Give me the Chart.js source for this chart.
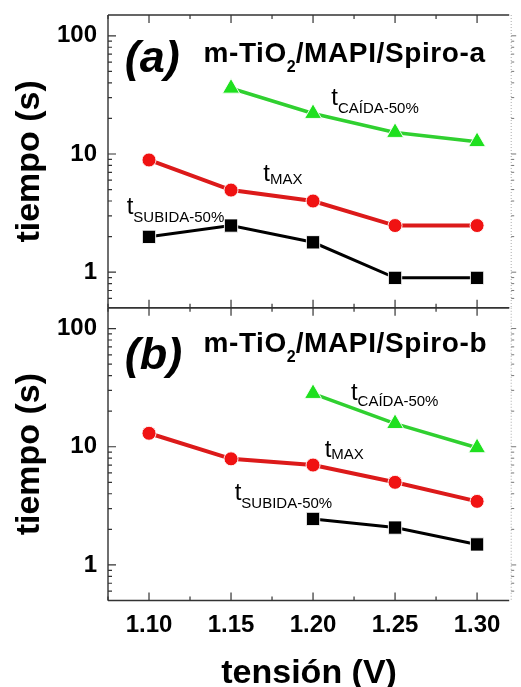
<!DOCTYPE html>
<html><head><meta charset="utf-8">
<script src="https://cdn.jsdelivr.net/npm/chart.js@4.4.1/dist/chart.umd.min.js"></script>
<style>
html,body{margin:0;padding:0;overflow:hidden;background:#fff;width:521px;height:687px}
#wrap{position:relative;width:521px;height:700px}
</style></head>
<body><div id="wrap"><canvas id="c" width="521" height="700"></canvas></div>
<script>
// ---------- data ----------
const volts    = [1.10, 1.15, 1.20, 1.25, 1.30];
const caidaA   = [null, 36, 22, 15.2, 12.7];
const maxA     = [8.9, 4.95, 4.0, 2.48, 2.48];
const subidaA  = [1.99, 2.48, 1.79, 0.895, 0.895];
const caidaB   = [null, null, 28.2, 15.7, 9.8];
const maxB     = [13, 7.9, 7.0, 5.0, 3.45];
const subidaB  = [null, null, 2.45, 2.07, 1.49];
const xTicks   = [1.10, 1.15, 1.20, 1.25, 1.30];
const xMinor   = [1.075, 1.125, 1.175, 1.225, 1.275];
const yTicks   = [1, 10, 100];
const yTitle   = 'tiempo (s)';
const xTitle   = 'tensión (V)';
const panelLetters = ['(a)', '(b)'];
const sampleNames  = [['m-TiO', '2', '/MAPI/Spiro-a'], ['m-TiO', '2', '/MAPI/Spiro-b']];
const subCaida  = 'CAÍDA-50%';
const subMax    = 'MAX';
const subSubida = 'SUBIDA-50%';

const FONT = "'Liberation Sans', Arial, Helvetica, sans-serif";
const GREEN = '#1fe01f', GREEN_L = '#30d030';
const RED = '#f01212', RED_L = '#dc1a1a';
const BLACK = '#000000';

const pts = arr => volts.map((v, i) => ({x: v, y: arr[i]}));

function ds(label, arr, axis, col, lineCol, style, r, lw) {
  return {
    label, data: pts(arr), yAxisID: axis,
    borderColor: lineCol, backgroundColor: col, borderWidth: lw,
    pointStyle: style, pointRadius: r, pointHoverRadius: r,
    pointBackgroundColor: col, pointBorderColor: 'rgba(255,255,255,0.9)', pointBorderWidth: 1,
    tension: 0, spanGaps: false
  };
}

// annotation anchors in data units (x: volts, y: seconds); parts: [text, font, baseline shift px, letter spacing px]
const annotations = [
  {axis: 'ya', x: 1.0852, y: 49.4, parts: [[panelLetters[0], 'italic bold 45px', 0, 0]]},
  {axis: 'ya', x: 1.1332, y: 60.6, parts: [[sampleNames[0][0], 'bold 28px', 0, 0.6], [sampleNames[0][1], 'bold 16px', 10, 0], [sampleNames[0][2], 'bold 28px', 0, 0.6]]},
  {axis: 'ya', x: 1.2111, y: 25.9, parts: [['t', '24px', 0, 0], [subCaida, '15px', 8, 0]]},
  {axis: 'ya', x: 1.1697, y: 5.90, parts: [['t', '24px', 0, 0], [subMax, '15px', 3, 0]]},
  {axis: 'ya', x: 1.0864, y: 3.10, parts: [['t', '24px', 0, 0], [subSubida, '15px', 8, 0]]},
  {axis: 'yb', x: 1.0852, y: 45.8, parts: [[panelLetters[1], 'italic bold 45px', 0, 0]]},
  {axis: 'yb', x: 1.1332, y: 63.6, parts: [[sampleNames[1][0], 'bold 28px', 0, 0.6], [sampleNames[1][1], 'bold 16px', 10, 0], [sampleNames[1][2], 'bold 28px', 0, 0.6]]},
  {axis: 'yb', x: 1.2231, y: 24.7, parts: [['t', '24px', 0, 0], [subCaida, '15px', 6, 0]]},
  {axis: 'yb', x: 1.2071, y: 8.21, parts: [['t', '24px', 0, 0], [subMax, '15px', 2, 0]]},
  {axis: 'yb', x: 1.1522, y: 3.52, parts: [['t', '24px', 0, 0], [subSubida, '15px', 8, 0]]},
];

function minorY() {
  const out = [];
  [0.1, 1, 10, 100].forEach(d => { for (let m = 2; m <= 9; m++) { const v = m * d; if (v > 0.5 && v < 150) out.push(v); } });
  return out;
}

const framePlugin = {
  id: 'frame',
  beforeDatasetsDraw(chart) {
    const ctx = chart.ctx, xs = chart.scales.x, ca = chart.chartArea;
    const L = ca.left, R = ca.right;
    ctx.save();
    ['ya', 'yb'].forEach(id => {
      const s = chart.scales[id];
      const top = s.top, bot = s.bottom;
      ctx.strokeStyle = '#333';
      ctx.lineWidth = 1.4;
      ctx.beginPath();
      ctx.moveTo(L, top); ctx.lineTo(R - 1, top);
      ctx.moveTo(L, bot); ctx.lineTo(R - 1, bot);
      ctx.moveTo(L, top); ctx.lineTo(L, bot);
      ctx.stroke();
      ctx.lineWidth = 1.2;
      ctx.beginPath();
      xTicks.forEach(v => { const p = xs.getPixelForValue(v); ctx.moveTo(p, bot); ctx.lineTo(p, bot - 8); ctx.moveTo(p, top); ctx.lineTo(p, top + 8); });
      xMinor.forEach(v => { const p = xs.getPixelForValue(v); ctx.moveTo(p, bot); ctx.lineTo(p, bot - 4); ctx.moveTo(p, top); ctx.lineTo(p, top + 4); });
      yTicks.forEach(v => { const p = s.getPixelForValue(v); ctx.moveTo(L, p); ctx.lineTo(L + 8, p); });
      minorY().forEach(v => { const p = s.getPixelForValue(v); ctx.moveTo(L, p); ctx.lineTo(L + 4, p); });
      ctx.stroke();
      // faint right border and outward ticks (cut-off edge)
      ctx.strokeStyle = '#aaa';
      ctx.lineWidth = 1;
      ctx.setLineDash([1, 2]);
      ctx.beginPath(); ctx.moveTo(R + 1, top); ctx.lineTo(R + 1, bot); ctx.stroke();
      ctx.setLineDash([]);
      ctx.strokeStyle = '#777';
      ctx.beginPath();
      yTicks.forEach(v => { const p = s.getPixelForValue(v); ctx.moveTo(R + 1, p); ctx.lineTo(R + 6, p); });
      minorY().forEach(v => { const p = s.getPixelForValue(v); ctx.moveTo(R + 1, p); ctx.lineTo(R + 4, p); });
      ctx.stroke();
    });
    ctx.restore();
  },
  afterDraw(chart) {
    const ctx = chart.ctx, xs = chart.scales.x;
    ctx.save();
    ctx.fillStyle = '#000';
    ctx.textBaseline = 'alphabetic';
    ctx.textAlign = 'left';
    annotations.forEach(a => {
      let px = xs.getPixelForValue(a.x);
      const py = chart.scales[a.axis].getPixelForValue(a.y);
      a.parts.forEach(([txt, f, dy, ls]) => {
        ctx.font = f + ' ' + FONT;
        ctx.letterSpacing = ls + 'px';
        ctx.fillText(txt, px, py + dy);
        px += ctx.measureText(txt).width;
      });
    });
    ctx.letterSpacing = '0px';
    ctx.restore();
  }
};

const yScale = () => ({
  type: 'logarithmic', position: 'left', stack: 'panels', stackWeight: 1,
  min: 0.5, max: 150,
  grid: {display: false, drawTicks: false, tickLength: 0},
  border: {display: false},
  afterFit: s => { s.width = 108; s.paddingTop = 0; s.paddingBottom = 0; },
  afterBuildTicks: s => { s.ticks = yTicks.map(v => ({value: v})); },
  ticks: {autoSkip: false, padding: 11, color: '#000',
    font: {family: FONT, size: 24, weight: 'bold'},
    callback: v => String(v)},
  title: {display: true, text: yTitle, color: '#000',
    font: {family: FONT, size: 34, weight: 'bold'}, padding: {top: 9.6, bottom: 0}}
});

new Chart(document.getElementById('c'), {
  type: 'line',
  data: {
    datasets: [
      ds('tCAÍDA-50% a', caidaA, 'ya', GREEN, GREEN_L, 'triangle', 9.8, 3.5),
      ds('tMAX a', maxA, 'ya', RED, RED_L, 'circle', 7, 4),
      ds('tSUBIDA-50% a', subidaA, 'ya', BLACK, BLACK, 'rect', 9.4, 3),
      ds('tCAÍDA-50% b', caidaB, 'yb', GREEN, GREEN_L, 'triangle', 9.8, 3.5),
      ds('tMAX b', maxB, 'yb', RED, RED_L, 'circle', 7, 4),
      ds('tSUBIDA-50% b', subidaB, 'yb', BLACK, BLACK, 'rect', 9.4, 3),
    ]
  },
  options: {
    responsive: false, animation: false, devicePixelRatio: 1,
    layout: {padding: {top: 15, right: 4, left: 0, bottom: 0}},
    plugins: {legend: {display: false}, tooltip: {enabled: false}},
    scales: {
      x: {
        type: 'linear', position: 'bottom', min: 1.075, max: 1.3202,
        grid: {display: false, drawTicks: false, tickLength: 0},
        border: {display: false},
        afterFit: s => { s.height = 99.5; s.paddingLeft = 0; s.paddingRight = 0; },
        afterBuildTicks: s => { s.ticks = xTicks.map(v => ({value: v})); },
        ticks: {autoSkip: false, maxRotation: 0, padding: 10.5, color: '#000',
          font: {family: FONT, size: 24, weight: 'bold'},
          callback: v => Number(v).toFixed(2)},
        title: {display: true, text: xTitle, color: '#000',
          font: {family: FONT, size: 34, weight: 'bold'}, padding: {top: 0, bottom: 5.6}}
      },
      yb: yScale(),
      ya: yScale()
    }
  },
  plugins: [framePlugin]
});
</script>
</body></html>
